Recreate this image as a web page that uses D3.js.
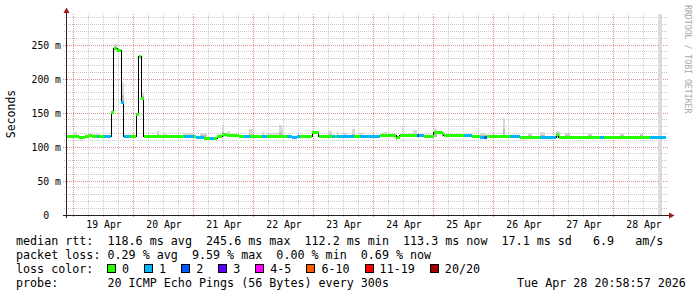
<!DOCTYPE html>
<html lang="en">
<head>
<meta charset="utf-8">
<title>SmokePing - last 10 days</title>
<script src="https://d3js.org/d3.v7.min.js"></script>
<style>
  body { margin: 0; background: #fff; }
  svg text { font-family: "DejaVu Sans Mono", monospace; white-space: pre; fill: #000; }
  .tick text { font-size: 9.8px; }
  .legend { font-size: 11.7px; }
</style>
</head>
<body>
<div id="chart"></div>
<script>
// times are hours counted from 18 Apr 2026 21:00 UTC
var stepHours = [0, 5, 7.5, 9, 10.5, 12.5, 13, 15, 18, 19,
  20.5, 22, 23, 25.5, 28, 29, 30, 31, 47, 51,
  52, 55, 57.5, 59, 60.5, 62.5, 64.5, 67, 69, 71,
  73.5, 78.5, 80.5, 88.5, 90.5, 92.5, 93.5, 98.5, 101, 106.5,
  107.5, 108.5, 115, 117.5, 125.5, 132, 132.5, 133.5, 138.5, 140.5,
  141, 143, 147, 149, 150.5, 151, 159, 162.5, 165.5, 167,
  168.5, 177.5, 181.5, 189.5, 196, 197, 213.5, 215, 233.5];
var medianMs = [115.5, 113.5, 115.5, 116.5, 115.5, 115.5, 115.5, 115.5, 150.5, 245,
  242.6, 165.7, 116, 115.5, 148, 233.8, 171.6, 115.5, 115.5, 115.5,
  114, 112.8, 112.8, 113, 115, 118.7, 117.2, 116.2, 115.2, 115.2,
  115.2, 115.2, 115.2, 115.2, 113.7, 115, 115.2, 121, 115.5, 115.5,
  115.5, 115.5, 115.5, 115.5, 116.2, 111.8, 113.7, 116.2, 116.5, 117,
  116.5, 116, 121, 122, 119.5, 116.2, 117, 115.2, 114, 114,
  115.2, 115, 114.5, 114.5, 118, 113.5, 113.5, 113.5, 113.3];
var lossLevel = [0, 0, 0, 0, 0, 1, 0, 1, 0, 0,
  0, 1, 1, 0, 0, 0, 0, 0, 1, 0,
  1, 0, 1, 0, 0, 0, 0, 0, 0, 1,
  0, 1, 0, 1, 1, 1, 0, 0, 0, 1,
  0, 1, 0, 1, 0, 0, 0, 0, 0, 2,
  1, 0, 0, 0, 0, 0, 1, 0, 1, 2,
  0, 1, 0, 1, 0, 0, 1, 0, 1];
var endHour = 240;

// smoke (spread of the 20 pings) where it shows above the median
var smokeFrom = [2.7, 10.3, 19.3, 22.3, 30.3, 36.3, 38.8, 46.8, 53.6, 62.3,
  64.4, 66.3, 73.2, 78.3, 80.3, 85.2, 86.3, 104.8, 108.3, 110.8,
  114.3, 116.8, 126.8, 134.3, 138.8, 146.8, 150.3, 165.6, 174.8, 184.8,
  189.6, 196, 199.6, 208.8, 221.6, 229.6, 236.9];
var smokeTo = [4.5, 13.6, 20.3, 23.2, 31, 37.3, 40.3, 50.8, 56.3, 63.2,
  65.6, 68.3, 74.7, 79.2, 84.8, 86.3, 86.9, 106.3, 108.8, 112.3,
  115.6, 118.3, 128.4, 134.9, 140.3, 148.3, 150.9, 168.3, 175.6, 186.4,
  191.6, 197.6, 201.6, 210.4, 223.2, 230.8, 238.5];
var smokeLow = [115, 115, 245, 165.7, 171.6, 115, 115, 115, 115, 115,
  115, 115, 115, 115, 115, 115, 115, 115, 115, 115,
  115, 115, 115, 115, 115, 115, 115, 115, 115, 115,
  115, 115, 115, 115, 115, 115, 0];
var smokeHigh = [122, 119, 252, 194, 179, 124, 121, 120, 120, 132,
  123.5, 118.6, 126.5, 122.5, 120, 132, 126, 123.5, 123.5, 121,
  126, 121, 122.5, 130, 125, 127, 123, 121, 142, 121,
  122, 124, 121, 120, 120, 120, 300];

var lossLabels = ["0", "1", "2", "3", "4-5", "6-10", "11-19", "20/20"];
var lossColors = ["#26ff00", "#00b8ff", "#0059ff", "#5e00ff", "#ff00ff", "#ff5e00", "#ff0000", "#a10000"];
var yTicks = [0, 50, 100, 150, 200, 250];

var statLines = [
  "median rtt:  118.6 ms avg  245.6 ms max  112.2 ms min  113.3 ms now  17.1 ms sd   6.9   am/s",
  "packet loss: 0.29 % avg  9.59 % max  0.00 % min  0.69 % now"
];
var probeText = "probe:       20 ICMP Echo Pings (56 Bytes) every 300s";
var stampText = "Tue Apr 28 20:58:57 2026";

var startTime = new Date(Date.UTC(2026, 3, 18, 20, 58, 57));
var endTime = new Date(Date.UTC(2026, 3, 28, 20, 58, 57));
var hourZero = Date.UTC(2026, 3, 18, 21, 0, 0);
function hourDate(h) { return new Date(hourZero + h * 3600e3); }

var left = 66, right = 666, plotTop = 14, bottom = 215;
var charW = 7.05;

var svg = d3.select("#chart").append("svg")
  .attr("width", 697).attr("height", 297);
svg.append("rect").attr("width", 697).attr("height", 297).attr("fill", "#fff");

var x = d3.scaleUtc().domain([startTime, endTime]).range([left, right]);
var y = d3.scaleLinear().domain([0, 300]).range([bottom, bottom - 204]);
function px(v) { return Math.floor(v) + 0.5; }

// grid
var grid = svg.append("g").attr("shape-rendering", "crispEdges").attr("stroke-dasharray", "1,1");
var minorY = d3.range(10, 300, 10).filter(function(d) { return d % 50 != 0 && y(d) >= plotTop; });
grid.selectAll(".hmin").data(minorY).enter().append("line")
  .attr("x1", left - 2).attr("x2", right + 2)
  .attr("y1", function(d) { return px(y(d)); }).attr("y2", function(d) { return px(y(d)); })
  .attr("stroke", "#c8c8c8");
var hours6 = x.ticks(d3.utcHour.every(6)).filter(function(d) { return d.getUTCHours() != 0; });
grid.selectAll(".vmin").data(hours6).enter().append("line")
  .attr("x1", function(d) { return px(x(d)); }).attr("x2", function(d) { return px(x(d)); })
  .attr("y1", plotTop).attr("y2", bottom + 2)
  .attr("stroke", "#c8c8c8");
grid.selectAll(".hmaj").data(yTicks.slice(1)).enter().append("line")
  .attr("x1", left - 3).attr("x2", right + 2)
  .attr("y1", function(d) { return px(y(d)); }).attr("y2", function(d) { return px(y(d)); })
  .attr("stroke", "#d99090");
var days = x.ticks(d3.utcDay.every(1));
grid.selectAll(".vmaj").data(days).enter().append("line")
  .attr("x1", function(d) { return px(x(d)); }).attr("x2", function(d) { return px(x(d)); })
  .attr("y1", plotTop).attr("y2", bottom + 3)
  .attr("stroke", "#d99090");

// smoke
var smoke = svg.append("g").attr("shape-rendering", "crispEdges");
smokeFrom.forEach(function(h0, i) {
  var x0 = x(hourDate(h0)), x1 = x(hourDate(smokeTo[i]));
  var yTop = Math.max(y(smokeHigh[i]), plotTop), yLow = y(smokeLow[i]);
  if (smokeLow[i] == 0) {
    smoke.append("rect").attr("x", x0).attr("y", yTop).attr("width", x1 - x0)
      .attr("height", yLow - yTop).attr("fill", "#dcdcdc");
    return;
  }
  var ySplit = yTop + (yLow - yTop) * 0.6;
  smoke.append("rect").attr("x", x0).attr("y", yTop).attr("width", x1 - x0)
    .attr("height", ySplit - yTop).attr("fill", "#d8d8d8");
  smoke.append("rect").attr("x", x0).attr("y", ySplit).attr("width", x1 - x0)
    .attr("height", yLow - ySplit).attr("fill", "#bcbcbc");
});

// median line (black) with loss coloured bands
var pts = stepHours.map(function(h, i) { return [hourDate(h), medianMs[i]]; });
pts.push([hourDate(endHour), medianMs[medianMs.length - 1]]);
var line = d3.line()
  .x(function(d) { return x(d[0]); })
  .y(function(d) { return px(y(d[1])); })
  .curve(d3.curveStepAfter);
svg.append("path").datum(pts).attr("d", line)
  .attr("fill", "none").attr("stroke", "#000").attr("stroke-width", 1)
  .attr("shape-rendering", "crispEdges");

var bands = svg.append("g").attr("shape-rendering", "crispEdges");
stepHours.forEach(function(h, i) {
  var h1 = i + 1 < stepHours.length ? stepHours[i + 1] : endHour;
  var x0 = x(hourDate(h)), x1 = Math.min(x(hourDate(h1)), right);
  bands.append("rect")
    .attr("x", x0).attr("width", x1 - x0)
    .attr("y", y(medianMs[i]) - 1.5).attr("height", 3)
    .attr("fill", lossColors[lossLevel[i]]);
});

// axes
var axes = svg.append("g").attr("shape-rendering", "crispEdges");
axes.append("line").attr("x1", left + 0.5).attr("x2", left + 0.5)
  .attr("y1", 10).attr("y2", bottom + 3).attr("stroke", "#222");
axes.append("line").attr("x1", left - 3).attr("x2", right + 3)
  .attr("y1", bottom + 0.5).attr("y2", bottom + 0.5).attr("stroke", "#222");
svg.append("path").attr("d", "M63.5,13L66.5,7.5L69.5,13Z").attr("fill", "#a01818");
svg.append("path").attr("d", "M669,212.5L674.5,215.5L669,218.5Z").attr("fill", "#a01818");

var yAxis = d3.axisLeft(y).tickValues(yTicks).tickSize(0).tickPadding(0)
  .tickFormat(function(d) { return d == 0 ? "0  " : d + " m"; });
svg.append("g").attr("transform", "translate(61,0)").call(yAxis)
  .call(function(g) { g.select(".domain").remove(); })
  .selectAll("text").attr("font-family", null).attr("font-size", null).attr("fill", "#000");

var noons = days.concat([d3.utcDay.floor(startTime)]).map(function(d) { return d3.utcHour.offset(d, 12); })
  .filter(function(d) { return d > startTime && d < endTime; });
var xAxis = d3.axisBottom(x).tickValues(noons).tickSize(0).tickPadding(0)
  .tickFormat(d3.utcFormat("%d %b"));
svg.append("g").attr("transform", "translate(0,221)").call(xAxis)
  .call(function(g) { g.select(".domain").remove(); })
  .selectAll("text").attr("font-family", null).attr("font-size", null).attr("fill", "#000");

// titles
svg.append("text").attr("class", "legend")
  .attr("transform", "translate(15,114) rotate(-90)")
  .attr("text-anchor", "middle").style("font-size", "11.5px").text("Seconds");
svg.append("text")
  .attr("transform", "translate(685,5) rotate(90)")
  .style("font-size", "8.2px").style("fill", "#a8a8a8")
  .text("RRDTOOL / TOBI OETIKER");

// legend
var legendX = 16;
statLines.forEach(function(s, i) {
  svg.append("text").attr("class", "legend").attr("x", legendX).attr("y", 245 + i * 14).text(s);
});
svg.append("text").attr("class", "legend").attr("x", legendX).attr("y", 273).text("loss color:");
var bx = legendX + 13 * charW - 0.6;
lossLabels.forEach(function(lab, i) {
  svg.append("rect").attr("x", Math.round(bx) + 0.5).attr("y", 264.5)
    .attr("width", 8).attr("height", 8)
    .attr("fill", lossColors[i]).attr("stroke", "#000").attr("shape-rendering", "crispEdges");
  svg.append("text").attr("class", "legend").attr("x", bx + 15).attr("y", 273).text(lab);
  bx += 15 + lab.length * charW + 15;
});
svg.append("text").attr("class", "legend").attr("x", legendX).attr("y", 287).text(probeText);
svg.append("text").attr("class", "legend").attr("x", 517).attr("y", 287).text(stampText);
</script>
</body>
</html>
